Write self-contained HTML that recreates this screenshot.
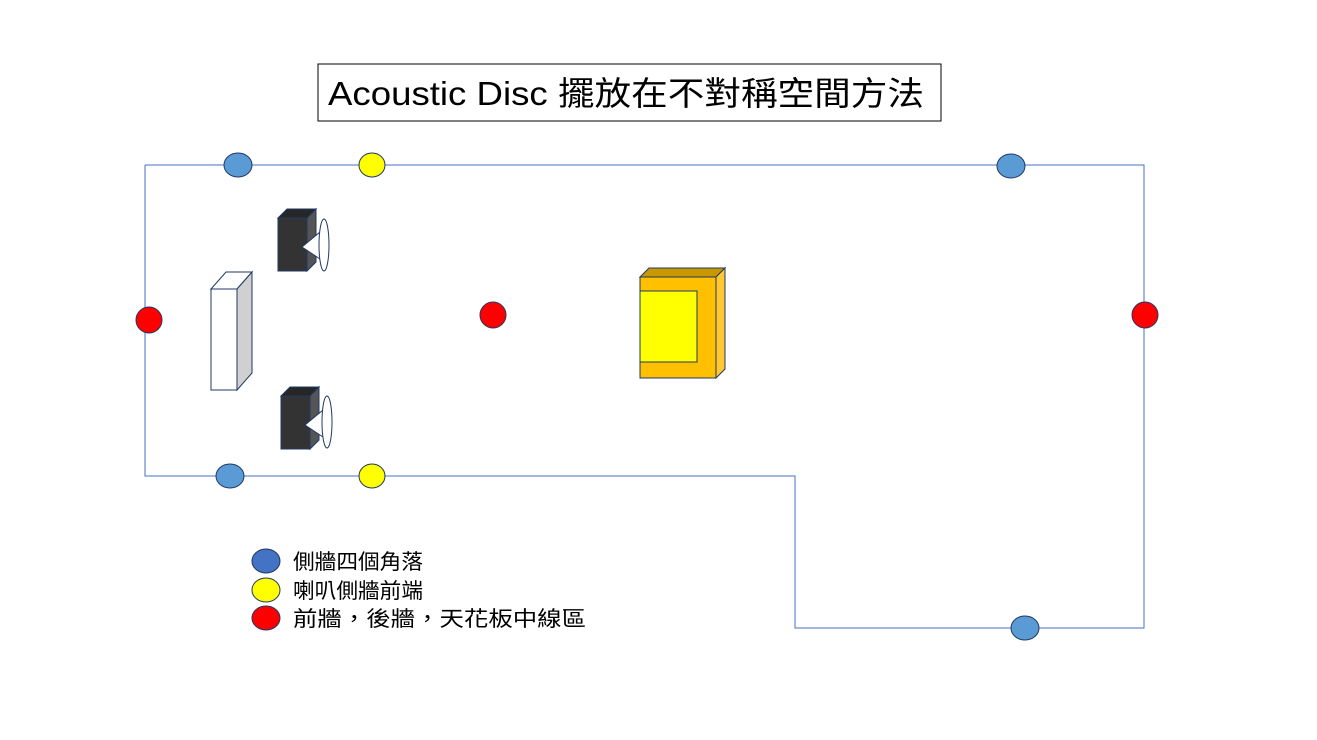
<!DOCTYPE html>
<html><head><meta charset="utf-8"><style>html,body{margin:0;padding:0;background:#fff}svg{display:block}</style></head>
<body>
<svg width="1317" height="740" viewBox="0 0 1317 740" xmlns="http://www.w3.org/2000/svg">
<rect x="318" y="64" width="623" height="57" fill="#fff" stroke="#000" stroke-width="1"/>
<text x="328" y="105" font-family="Liberation Sans, Noto Sans CJK TC, sans-serif" font-size="33" textLength="596" lengthAdjust="spacingAndGlyphs">Acoustic Disc 擺放在不對稱空間方法</text>
<polyline points="145,165 1144,165 1144,628 795,628 795,476 145,476 145,165" fill="none" stroke="#4472c4" stroke-width="1"/>
<!-- TV -->
<polygon points="211,289 226,272 252,272 237,289" fill="#fff" stroke="#1f3864"/>
<polygon points="237,289 252,272 252,373 237,390" fill="#d0d0d0" stroke="#1f3864"/>
<rect x="211" y="289" width="26" height="101" fill="#fff" stroke="#1f3864"/>
<!-- speaker 1 -->
<polygon points="278,218 287,209 316,209 307,218" fill="#262626" stroke="#1f3864"/>
<polygon points="307,218 316,209 316,262 307,271" fill="#555" stroke="#1f3864"/>
<rect x="278" y="218" width="29" height="53" fill="#333" stroke="#1f3864"/>
<polygon points="320,232 302,247 320,259" fill="#fff" stroke="#1f3864"/>
<ellipse cx="324" cy="245" rx="5" ry="26" fill="#fff" stroke="#1f3864"/>
<!-- speaker 2 -->
<polygon points="281,396 290,387 319,387 310,396" fill="#262626" stroke="#1f3864"/>
<polygon points="310,396 319,387 319,440 310,449" fill="#555" stroke="#1f3864"/>
<rect x="281" y="396" width="29" height="53" fill="#333" stroke="#1f3864"/>
<polygon points="323,410 305,425 323,437" fill="#fff" stroke="#1f3864"/>
<ellipse cx="327" cy="422" rx="5" ry="26" fill="#fff" stroke="#1f3864"/>
<!-- yellow box -->
<polygon points="640,277 649,268 725,268 716,277" fill="#c99700" stroke="#1f3864"/>
<polygon points="716,277 725,268 725,369 716,378" fill="#ffc830" stroke="#1f3864"/>
<rect x="640" y="277" width="76" height="101" fill="#ffc000" stroke="#1f3864"/>
<rect x="640" y="291" width="57" height="71" fill="#ffff00" stroke="#1f3864"/>
<!-- dots -->
<g stroke="#1f3864" stroke-width="1">
<ellipse cx="238" cy="165" rx="14" ry="12" fill="#5b9bd5"/>
<ellipse cx="1011" cy="166" rx="14" ry="12" fill="#5b9bd5"/>
<ellipse cx="230" cy="476" rx="14" ry="12" fill="#5b9bd5"/>
<ellipse cx="1025" cy="628" rx="14" ry="12" fill="#5b9bd5"/>
<ellipse cx="372" cy="165" rx="13" ry="12" fill="#ffff00"/>
<ellipse cx="372" cy="476" rx="13" ry="12" fill="#ffff00"/>
<ellipse cx="149" cy="320" rx="13" ry="13" fill="#ff0000"/>
<ellipse cx="493" cy="315" rx="13" ry="13" fill="#ff0000"/>
<ellipse cx="1145" cy="315" rx="13" ry="13" fill="#ff0000"/>
<ellipse cx="266" cy="561" rx="14" ry="12" fill="#4472c4"/>
<ellipse cx="266" cy="590" rx="14" ry="12" fill="#ffff00"/>
<ellipse cx="266" cy="618" rx="14" ry="12" fill="#ff0000"/>
</g>
<g font-family="Liberation Sans, Noto Sans CJK TC, sans-serif" font-size="21" fill="#000">
<text x="293" y="569" textLength="130" lengthAdjust="spacingAndGlyphs">側牆四個角落</text>
<text x="293" y="598" textLength="130" lengthAdjust="spacingAndGlyphs">喇叭側牆前端</text>
<text x="293" y="626" textLength="293" lengthAdjust="spacingAndGlyphs">前牆，後牆，天花板中線區</text>
</g>
</svg>
</body></html>
